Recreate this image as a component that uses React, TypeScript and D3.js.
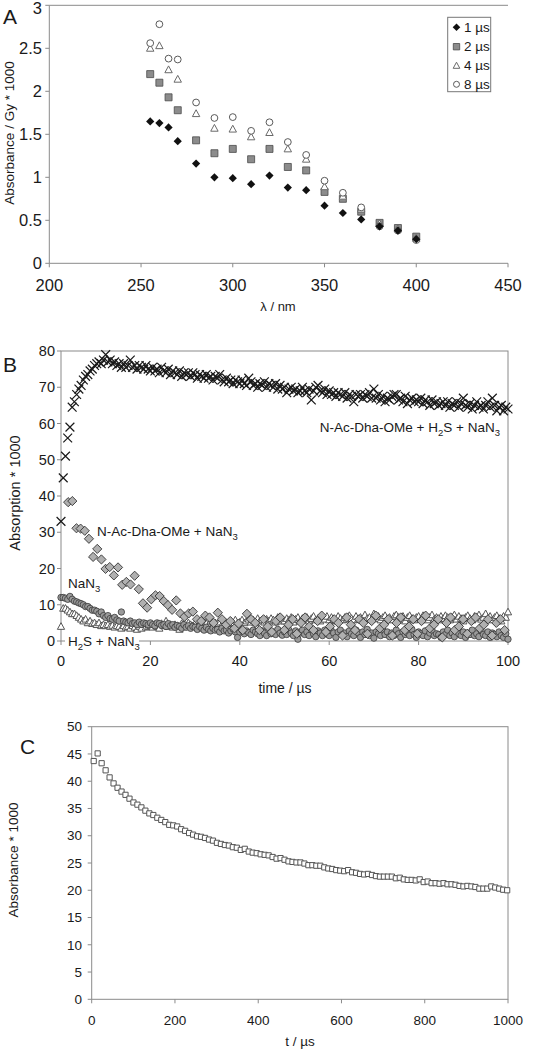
import React from 'react';
import * as d3 from 'd3';

const FONT = '"Liberation Sans", Arial, Helvetica, sans-serif';

// ---------- Panel A data ----------
const wavelengths = [255, 260, 265, 270, 280, 290, 300, 310, 320, 330, 340, 350, 360, 370, 380, 390, 400];
const abs1us = [1.65, 1.63, 1.58, 1.42, 1.16, 1.0, 0.99, 0.92, 1.02, 0.88, 0.85, 0.67, 0.585, 0.51, 0.43, 0.38, 0.28];
const abs2us = [2.2, 2.1, 1.93, 1.78, 1.43, 1.28, 1.33, 1.21, 1.33, 1.12, 1.08, 0.83, 0.75, 0.6, 0.47, 0.41, 0.31];
const abs4us = [2.5, 2.53, 2.25, 2.14, 1.74, 1.57, 1.56, 1.47, 1.52, 1.33, 1.21, 0.89, 0.78, 0.63, 0.46, 0.4, 0.29];
const abs8us = [2.56, 2.78, 2.38, 2.37, 1.87, 1.69, 1.7, 1.54, 1.64, 1.41, 1.26, 0.96, 0.82, 0.65, 0.43, 0.38, 0.27];
const legendA = ['1 µs', '2 µs', '4 µs', '8 µs'];
const xTicksA = [200, 250, 300, 350, 400, 450];
const yTicksA = [0, 0.5, 1, 1.5, 2, 2.5, 3];

// ---------- Panel B data ----------
const stepB = 0.5;
const crossSeries = [
  33, 45, 51, 56, 59, 64.5, 66, 68, 69.5, 70.5,
  72, 73, 73.5, 74.5, 75, 76, 76.5, 77, 76.5, 77.5,
  79, 77, 77.5, 76.5, 77, 76, 76.5, 75.5, 76.5, 75.5,
  76, 77.5, 75.5, 76, 75, 76, 75.5, 75, 76, 75,
  74.5, 75.5, 74.5, 75, 74, 75.5, 74.5, 74, 75, 73.5,
  74.5, 74, 73.5, 74.5, 73, 74, 73.5, 74, 73, 74,
  73.5, 72.5, 73.5, 73, 72.5, 73.5, 72.5, 73, 72, 73,
  72.5, 73.5, 72, 71.5, 72.5, 71.5, 72, 71, 72, 71.5,
  71, 72, 71, 70.5, 72.5, 71.5, 70.5, 71, 70, 71,
  70.5, 71.5, 70, 71, 70.5, 70, 71, 69.5, 70.5, 69.5,
  70, 68.5, 69.5, 70, 69, 69.5, 68.5, 69, 70, 69,
  68.5, 69.5, 66.5, 69, 70, 70.5, 69, 68.5, 69.5, 68,
  69, 68, 68.5, 67.5, 68.5, 68, 67.5, 68.5, 67, 68,
  67.5, 66, 68, 67.5, 68, 67, 68, 67.5, 68.5, 67,
  69.5, 67, 68, 66.5, 67.5, 66, 67, 66.5, 67.5, 68,
  68, 66.5, 67, 66, 67.5, 65.5, 66.5, 67, 66, 66.5,
  66, 67, 65.5, 66.5, 66, 65, 66.5, 65.5, 66, 65,
  65.5, 66, 65, 66, 64.5, 65.5, 65, 66, 64.5, 65.5,
  67, 65, 64.5, 65.5, 64, 65, 66, 64.5, 65, 64,
  65, 66, 64.5, 67, 65, 63.5, 64.5, 65, 63.5, 64.5,
  64,
];
const circleSeries = [
  12, 12, 11.8, 11.5, 12.3, 11.5, 11, 10.8, 10.5, 10.3,
  10, 9.5, 9.5, 9, 8.5, 8.5, 8.2, 7.5, 8, 7,
  6.5, 7, 6.2, 6, 6.5, 5.8, 5.5, 8, 5.5, 5.2,
  5, 5.5, 4.8, 5, 4.5, 5.2, 4.6, 5, 4.8, 4.5,
  5, 4.5, 4.2, 5, 4.8, 4.3, 4.5, 4, 4.8, 4.2,
  4.5, 3.8, 4.3, 4, 3.5, 4.5, 3.8, 4.2, 3.5, 4,
  3.8, 3.2, 4, 3.5, 3, 3.8, 3.2, 2.8, 3.5, 3,
  3.2, 2.5, 3.5, 2.8, 3, 2.2, 2.8, 3.3, 2.5, 1,
  2.5, 3, 2, 2.8, 2.3, 1.8, 3, 2.5, 2, 1.5,
  2.8, 2.2, 1.5, 3, 2, 2.5, 1.8, 3.2, 2.2, 1.6,
  2.5, 1.8, 3, 2.2, 1.5, 2.8, 0.5, 2.2, 3, 1.8,
  2.5, 1.5, 3.2, 2, 1.2, 2.8, 2.2, 1.5, 3, 2,
  1.5, 2.8, 2.2, 1, 2.5, 3, 1.8, 2.2, 1.2, 2.8,
  2, 1.5, 3, 2.2, 1, 2.5, 1.8, 3.2, 1.5, 2.2,
  0.8, 2.5, 2, 1.5, 3, 1.8, 2.5, 1.2, 2.2, 1.5,
  3, 2, 1, 2.5, 1.8, 2.2, 1.5, 3.2, 1.8, 1,
  2.5, 2, 1.5, 2.8, 1.2, 2.2, 3, 1.5, 2, 1.8,
  1, 2.5, 1.8, 3, 1.5, 2.2, 1.2, 2.8, 2, 1.5,
  2.5, 1, 2.2, 1.8, 3, 1.5, 2, 1.2, 2.8, 1.8,
  1.5, 2.5, 1, 2.2, 1.8, 1.2, 2.5, 1.5, 1, 2,
  0.5,
];
const triangleSeries = [
  4, 9, 9, 8.5, 8, 7.5, 7.5, 7, 6.5, 6,
  5.5, 6, 5, 5.5, 4.8, 5, 4.5, 5, 4.2, 4.5,
  4.2, 4.5, 4, 4.3, 3.8, 4.2, 4, 3.5, 4.2, 3.8,
  4, 3.5, 4.2, 3.8, 3.2, 4, 3.5, 4.5, 3.8, 4,
  4.2, 3.8, 4.5, 4, 3.5, 4.8, 4.2, 5.5, 4, 4.5,
  3.8, 4.5, 4.2, 3.2, 4.8, 4.5, 4, 5, 4.5, 4.2,
  4.8, 4.2, 5, 4.5, 5.2, 4.8, 4.2, 5.5, 4.5, 5,
  4.8, 5.2, 4.5, 5.5, 5, 4.8, 5.5, 5, 5.8, 4.8,
  5.2, 5.8, 5, 5.5, 6, 5.2, 5.8, 5, 6.2, 5.5,
  5.8, 5.2, 6, 5.5, 6.2, 5.8, 5.2, 6.5, 5.5, 6,
  5.5, 6.2, 5.8, 6.5, 5.2, 6, 6.5, 5.5, 6.2, 5.8,
  6.5, 5.5, 6.2, 6.8, 5.8, 6.2, 5.5, 6.5, 6, 6.8,
  5.8, 6.5, 6, 5.5, 6.8, 6.2, 5.8, 6.5, 6, 7,
  6.2, 5.8, 6.8, 6, 6.5, 5.8, 7.2, 6.2, 6.5, 6,
  7.5, 6.2, 6.8, 5.8, 6.5, 7, 6, 6.5, 5.8, 6.8,
  7.2, 6.5, 6, 6.8, 5.5, 6.5, 7, 6.2, 5.8, 6.5,
  6.8, 6, 7, 6.2, 5.8, 6.5, 7.2, 6, 6.5, 5.8,
  6.8, 6.2, 7, 6.5, 5.8, 6.5, 7.2, 6, 6.8, 6.2,
  5.5, 6.5, 7, 6.2, 5.8, 6.8, 6.5, 7.2, 6, 6.5,
  7.5, 6.2, 6.8, 5.8, 6.5, 7, 6.2, 5.5, 6.8, 6.5,
  8,
];
const diamondStart = 1.6;
const diamondStep = 0.93;
const diamondSeries = [
  38.3, 38.6, 31.1, 31.0, 30.4, 28.2, 23.2, 25.4, 22.5, 19.9,
  20.4, 18.1, 20.3, 15.5, 16.3, 15.6, 18.0, 14.3, 10.4, 9.2,
  11.5, 12.6, 12.4, 11.0, 9.9, 8.6, 11.2, 7.6, 6.7, 7.6,
  8.1, 6.0, 5.5, 7.0, 6.5, 5.0, 7.8, 6.0, 4.5, 5.5,
  3.5, 4.8, 3.0, 7.5, 6.0, 5.0, 3.0, 6.0, 4.0, 2.5,
  5.5, 6.5, 3.0, 4.5, 6.0, 2.0, 5.0, 6.5, 4.0, 3.0,
  5.5, 7.0, 2.5, 4.0, 6.0, 5.0, 1.5, 6.5, 4.5, 3.0,
  6.0, 5.0, 2.0, 5.5, 7.0, 3.5, 4.5, 6.0, 1.5, 5.0,
  6.5, 3.0, 4.0, 6.0, 2.0, 5.5, 7.0, 3.5, 4.5, 6.0,
  1.0, 5.0, 6.5, 3.0, 4.0, 6.0, 2.0, 5.5, 6.5, 3.5,
  4.5, 6.0, 1.5, 5.0, 6.0, 3.0,
];
const xTicksB = [0, 20, 40, 60, 80, 100];
const yTicksB = [0, 10, 20, 30, 40, 50, 60, 70, 80];

// ---------- Panel C data ----------
const cStart = 4.8;
const cStep = 9.55;
const squareSeries = [
  43.7, 45.1, 43.3, 42.0, 40.7, 39.6, 38.8, 38.1, 37.5, 36.8,
  36.1, 35.7, 35.2, 34.6, 34.1, 33.8, 33.3, 32.9, 32.5, 32.0,
  31.9, 31.7, 31.2, 30.9, 30.5, 30.2, 29.9, 29.8, 29.6, 29.3,
  29.1, 28.7, 28.5, 28.3, 28.2, 27.9, 27.8, 27.4, 27.6, 27.1,
  26.9, 26.8, 26.6, 26.5, 26.4, 26.1, 25.8, 25.9, 25.6, 25.3,
  25.2, 25.1, 25.1, 24.9, 24.6, 24.6, 24.5, 24.5, 24.2, 24.0,
  23.9, 23.7, 23.6, 23.5, 23.7, 23.3, 23.2, 23.0, 22.9, 23.0,
  22.8, 22.6, 22.5, 22.5, 22.5, 22.5, 22.2, 22.3, 22.0, 21.9,
  21.9, 21.8, 22.0, 21.5, 21.6, 21.3, 21.3, 21.2, 21.3, 21.1,
  21.1, 21.0, 20.8, 20.7, 20.8, 20.7, 20.6, 20.3, 20.3, 20.3,
  20.7, 20.5, 20.3, 20.1, 20.0,
];
const xTicksC = [0, 200, 400, 600, 800, 1000];
const yTicksC = [0, 5, 10, 15, 20, 25, 30, 35, 40, 45, 50];

// ---------- marker shapes ----------
const diamondPath = (r: number) => `M0,${-r}L${r},0L0,${r}L${-r},0Z`;
const squarePath = (h: number) => `M${-h},${-h}H${h}V${h}H${-h}Z`;
const trianglePath = (r: number) => `M0,${-r}L${r * 0.95},${r * 0.75}L${-r * 0.95},${r * 0.75}Z`;
const crossPath = (r: number) => `M${-r},${-r}L${r},${r}M${-r},${r}L${r},${-r}`;

const AXIS = '#8a8a8a';
const TXT = '#1a1a1a';

type AxesProps = {
  x: d3.ScaleLinear<number, number>;
  y: d3.ScaleLinear<number, number>;
  xTicks: number[];
  yTicks: number[];
  fontSize: number;
  xLabelY: number;
  yLabelX: number;
  frame: 'full' | 'top';
};

function Axes({ x, y, xTicks, yTicks, fontSize, xLabelY, yLabelX, frame }: AxesProps) {
  const [x0, x1] = x.range();
  const [y0, y1] = y.range();
  const minY = fontSize * 0.4;
  return (
    <g>
      {frame === 'full' ? (
        <rect x={x0} y={y1} width={x1 - x0} height={y0 - y1} fill="none" stroke={AXIS} strokeWidth={1} />
      ) : (
        <g>
          <line x1={x0} x2={x1} y1={y1} y2={y1} stroke={AXIS} strokeWidth={1} />
          <line x1={x0} x2={x0} y1={y1} y2={y0} stroke={AXIS} strokeWidth={1} />
          <line x1={x0} x2={x1} y1={y0} y2={y0} stroke={AXIS} strokeWidth={1} />
        </g>
      )}
      {xTicks.map((t) => (
        <g key={'x' + t}>
          <line x1={x(t)} x2={x(t)} y1={y0} y2={y0 + 4} stroke={AXIS} />
          <text x={x(t)} y={xLabelY} textAnchor="middle" fontSize={fontSize} fill={TXT} fontFamily={FONT}>
            {String(t)}
          </text>
        </g>
      ))}
      {yTicks.map((t) => (
        <g key={'y' + t}>
          <line x1={x0 - 4} x2={x0} y1={y(t)} y2={y(t)} stroke={AXIS} />
          <text x={yLabelX} y={Math.max(y(t), minY + 1.5)} dy="0.35em" textAnchor="end" fontSize={fontSize} fill={TXT} fontFamily={FONT}>
            {String(t)}
          </text>
        </g>
      ))}
    </g>
  );
}

export default function App() {
  // Panel A scales
  const xA = d3.scaleLinear().domain([200, 450]).range([49.3, 508]);
  const yA = d3.scaleLinear().domain([0, 3]).range([263.3, 5.3]);
  // Panel B scales
  const xB = d3.scaleLinear().domain([0, 100]).range([61, 508]);
  const yB = d3.scaleLinear().domain([0, 80]).range([641, 351]);
  // Panel C scales
  const xC = d3.scaleLinear().domain([0, 1000]).range([91.7, 508]);
  const yC = d3.scaleLinear().domain([0, 50]).range([999.3, 726.7]);

  const tB = (i: number) => i * stepB;
  const tD = (i: number) => diamondStart + i * diamondStep;
  const tC = (i: number) => cStart + i * cStep;

  const legendY = [27.3, 46.7, 65.7, 84.3];
  const SUB = 9.5;
  const SH = 4;

  return (
    <svg width={544} height={1050} style={{ position: 'absolute', left: 0, top: 0, background: '#fff' }} fontFamily={FONT}>
      <rect width={544} height={1050} fill="#fff" />

      {/* ================= Panel A ================= */}
      <Axes x={xA} y={yA} xTicks={xTicksA} yTicks={yTicksA} fontSize={16.5} xLabelY={291} yLabelX={42} frame="top" />
      <text x={3} y={24} fontSize={21} fill={TXT}>A</text>
      <text transform={`translate(14,133) rotate(-90)`} textAnchor="middle" fontSize={13.5} fill={TXT}>
        Absorbance / Gy * 1000
      </text>
      <text x={278} y={311} textAnchor="middle" fontSize={13} fill={TXT}>λ / nm</text>

      <g>
        {wavelengths.map((w, i) => (
          <path key={'a2' + i} transform={`translate(${xA(w)},${yA(abs2us[i])})`} d={squarePath(3.5)} fill="#8c8c8c" stroke="#4a4a4a" strokeWidth={0.8} />
        ))}
        {wavelengths.map((w, i) => (
          <path key={'a4' + i} transform={`translate(${xA(w)},${yA(abs4us[i])})`} d={trianglePath(3.9)} fill="#fff" stroke="#6a6a6a" strokeWidth={1} />
        ))}
        {wavelengths.map((w, i) => (
          <circle key={'a8' + i} cx={xA(w)} cy={yA(abs8us[i])} r={3.4} fill="#fff" stroke="#5a5a5a" strokeWidth={1} />
        ))}
        {wavelengths.map((w, i) => (
          <path key={'a1' + i} transform={`translate(${xA(w)},${yA(abs1us[i])})`} d={diamondPath(4.1)} fill="#111" />
        ))}
      </g>

      {/* legend A */}
      <rect x={447.7} y={17.3} width={43} height={74.4} fill="#fff" stroke="#777" strokeWidth={1} />
      <path transform={`translate(456.5,${legendY[0]})`} d={diamondPath(3.8)} fill="#111" />
      <path transform={`translate(456.5,${legendY[1]})`} d={squarePath(3.2)} fill="#8c8c8c" stroke="#4a4a4a" strokeWidth={0.8} />
      <path transform={`translate(456.5,${legendY[2]})`} d={trianglePath(3.5)} fill="#fff" stroke="#6a6a6a" />
      <circle cx={456.5} cy={legendY[3]} r={3} fill="#fff" stroke="#5a5a5a" />
      {legendA.map((l, i) => (
        <text key={l} x={464} y={legendY[i]} dy="0.35em" fontSize={13.5} fill={TXT}>{l}</text>
      ))}

      {/* ================= Panel B ================= */}
      <Axes x={xB} y={yB} xTicks={xTicksB} yTicks={yTicksB} fontSize={14.5} xLabelY={666} yLabelX={55} frame="full" />
      <text x={3} y={372} fontSize={21} fill={TXT}>B</text>
      <text transform={`translate(20,493) rotate(-90)`} textAnchor="middle" fontSize={14.5} fill={TXT}>
        Absorption * 1000
      </text>
      <text x={285} y={693} textAnchor="middle" fontSize={14} fill={TXT}>time / µs</text>

      <g>
        {triangleSeries.map((v, i) => (
          <path key={'bt' + i} transform={`translate(${xB(tB(i))},${yB(v)})`} d={trianglePath(3.8)} fill="#fff" stroke="#555" strokeWidth={1} />
        ))}
        {circleSeries.map((v, i) => (
          <circle key={'bc' + i} cx={xB(tB(i))} cy={yB(v)} r={3.2} fill="#9a9a9a" stroke="#3a3a3a" strokeWidth={0.8} />
        ))}
        {diamondSeries.map((v, i) => (
          <path key={'bd' + i} transform={`translate(${xB(tD(i))},${yB(v)})`} d={diamondPath(4.6)} fill="#b0b0b0" stroke="#333" strokeWidth={0.9} />
        ))}
        {crossSeries.map((v, i) => (
          <path key={'bx' + i} transform={`translate(${xB(tB(i))},${yB(v)})`} d={crossPath(4.4)} fill="none" stroke="#1a1a1a" strokeWidth={1.2} />
        ))}
      </g>

      <text x={500} y={432} textAnchor="end" fontSize={13.5} fill={TXT}>
        <tspan>N-Ac-Dha-OMe + H</tspan>
        <tspan fontSize={SUB} dy={SH}>2</tspan>
        <tspan dy={-SH}>S + NaN</tspan>
        <tspan fontSize={SUB} dy={SH}>3</tspan>
      </text>
      <text x={97} y={536} fontSize={13.5} fill={TXT}>
        <tspan>N-Ac-Dha-OMe + NaN</tspan>
        <tspan fontSize={SUB} dy={SH}>3</tspan>
      </text>
      <text x={68} y={588} fontSize={13.5} fill={TXT}>
        <tspan>NaN</tspan>
        <tspan fontSize={SUB} dy={SH}>3</tspan>
      </text>
      <rect x={65} y={633} width={74} height={16} fill="#fff" />
      <text x={68} y={646} fontSize={13.5} fill={TXT}>
        <tspan>H</tspan>
        <tspan fontSize={SUB} dy={SH}>2</tspan>
        <tspan dy={-SH}>S + NaN</tspan>
        <tspan fontSize={SUB} dy={SH}>3</tspan>
      </text>

      {/* ================= Panel C ================= */}
      <Axes x={xC} y={yC} xTicks={xTicksC} yTicks={yTicksC} fontSize={13.5} xLabelY={1025} yLabelX={82} frame="full" />
      <text x={20} y={754} fontSize={21} fill={TXT}>C</text>
      <text transform={`translate(18,860) rotate(-90)`} textAnchor="middle" fontSize={13.5} fill={TXT}>
        Absorbance * 1000
      </text>
      <text x={300} y={1046} textAnchor="middle" fontSize={13.5} fill={TXT}>t / µs</text>
      <g>
        {squareSeries.map((v, i) => (
          <path key={'c' + i} transform={`translate(${xC(tC(i))},${yC(v)})`} d={squarePath(2.6)} fill="#fff" stroke="#555" strokeWidth={1} />
        ))}
      </g>
    </svg>
  );
}
